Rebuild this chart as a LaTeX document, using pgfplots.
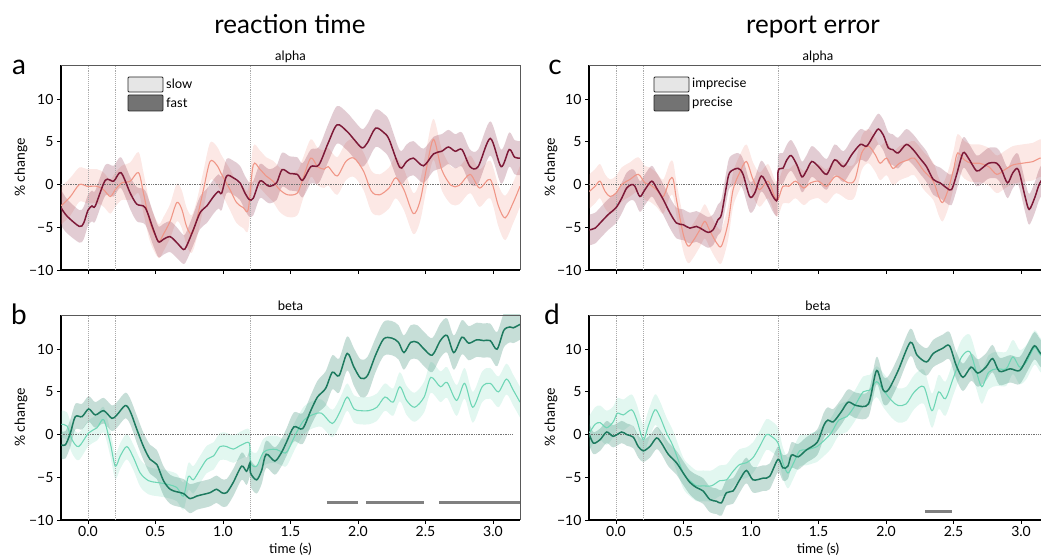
\documentclass[border=0pt]{standalone}
\usepackage{fontspec}
\setmainfont{Lato}
\usepackage{pgfplots}
\pgfplotsset{compat=1.18}
\usepackage{pgfplotstable}
\usepgfplotslibrary{fillbetween}

\definecolor{aD}{RGB}{125,25,55}
\definecolor{aL}{RGB}{240,150,135}
\definecolor{bD}{RGB}{29,122,95}
\definecolor{bL}{RGB}{111,214,181}
\definecolor{sig}{RGB}{128,128,128}
\definecolor{guide}{RGB}{170,170,170}
\definecolor{legL}{RGB}{230,230,230}
\definecolor{legD}{RGB}{115,115,115}

\pgfplotstableread{
t m w
-0.20 -2.7 2.1
-0.155 -3.7 2.0
-0.064 -4.9 1.9
-0.032 -4.5 1.9
0.00 -3.0 1.8
0.03 -2.5 1.8
0.054 -2.5 1.8
0.128 0.5 1.8
0.19 0.4 1.8
0.244 1.4 1.8
0.313 -1.0 1.9
0.362 -2.3 2.0
0.424 -2.7 2.0
0.485 -5.3 1.9
0.522 -6.7 1.8
0.559 -6.4 1.8
0.608 -6.1 1.8
0.658 -6.8 1.8
0.707 -7.6 1.7
0.73 -7.2 1.7
0.78 -5.3 1.8
0.83 -3.3 1.9
0.88 -2.5 2.0
0.93 -1.4 2.0
0.966 -0.8 2.0
0.99 -1.0 2.0
1.027 1.0 2.0
1.076 0.8 2.0
1.126 0.2 2.0
1.163 -1.0 2.0
1.195 -1.75 2.0
1.224 -1.6 2.0
1.273 0.4 2.0
1.32 0.0 2.0
1.347 -0.2 2.0
1.397 0.2 2.0
1.438 1.75 2.0
1.495 1.3 2.0
1.55 1.2 2.0
1.59 0.5 2.0
1.65 2.1 2.0
1.71 2.3 2.1
1.78 4.9 2.2
1.845 7.0 2.2
1.92 6.2 2.2
1.97 5.3 2.2
2.03 4.3 2.2
2.07 4.9 2.2
2.13 6.6 2.2
2.19 6.1 2.2
2.23 5.3 2.2
2.31 2.0 2.0
2.36 2.7 2.0
2.41 3.1 2.0
2.485 2.2 2.0
2.56 3.6 2.0
2.62 3.9 2.0
2.67 4.4 2.0
2.72 3.9 2.0
2.77 4.1 2.0
2.83 2.1 2.0
2.89 2.1 2.0
2.98 5.4 2.0
3.06 2.1 2.0
3.12 4.1 2.0
3.16 3.2 2.0
3.2 3.1 2.0
}\tabAD

\pgfplotstableread{
t m w
-0.2 -2.5 2.2
-0.13 -1.4 2.2
-0.064 0.0 2.0
-0.007 -0.2 2.0
0.067 -0.2 2.0
0.116 -0.6 2.0
0.165 -1.4 2.0
0.202 -0.6 2.0
0.25 0.2 2.0
0.313 0.4 2.2
0.374 1.4 2.4
0.411 -1.0 2.4
0.46 -4.5 2.2
0.522 -6.6 2.0
0.559 -5.8 2.0
0.608 -4.3 2.0
0.658 -2.1 2.2
0.695 -2.9 2.2
0.73 -4.9 2.2
0.768 -5.8 2.2
0.805 -4.1 2.2
0.855 -0.6 2.2
0.904 2.7 2.2
0.953 2.3 2.2
0.99 1.2 2.2
1.052 -0.6 2.4
1.10 -2.1 2.4
1.15 -2.7 2.4
1.187 -2.9 2.4
1.224 2.3 2.2
1.273 1.8 2.2
1.32 1.0 2.2
1.37 0.4 2.4
1.42 -0.6 2.6
1.48 -1.2 2.6
1.55 -1.0 2.6
1.59 0.6 2.4
1.65 3.1 2.2
1.70 2.1 2.2
1.75 1.8 2.2
1.78 2.1 2.2
1.845 1.0 2.2
1.91 2.7 2.2
1.97 3.1 2.2
2.04 1.6 2.2
2.10 -0.8 2.4
2.16 -1.2 2.4
2.23 -0.4 2.4
2.28 0.8 2.4
2.34 -0.6 2.4
2.41 -3.4 2.4
2.46 -1.9 2.4
2.51 2.1 2.4
2.56 5.3 2.4
2.62 1.75 2.4
2.69 -0.1 2.2
2.75 -0.1 2.2
2.83 1.2 2.2
2.90 -0.4 2.2
2.98 0.6 2.2
3.04 -2.5 2.4
3.09 -3.9 2.6
3.15 -2.1 2.4
3.2 -0.2 2.4
}\tabAL

\pgfplotstableread{
t m w
-0.197 -1.2 1.6
-0.167 -1.2 1.6
-0.13 0.2 1.6
-0.094 2.1 1.5
-0.044 2.1 1.5
0.005 3.0 1.5
0.054 2.3 1.5
0.116 2.8 1.5
0.177 1.9 1.5
0.214 2.3 1.5
0.276 3.4 1.5
0.313 2.7 1.5
0.362 0.6 1.6
0.411 -1.4 1.6
0.46 -2.9 1.7
0.51 -3.5 1.7
0.559 -5.4 1.7
0.608 -6.4 1.7
0.658 -6.7 1.7
0.707 -6.9 1.7
0.756 -7.5 1.7
0.805 -7.2 1.6
0.855 -7.0 1.6
0.904 -6.8 1.6
0.953 -6.4 1.6
0.99 -6.8 1.6
1.027 -6.8 1.6
1.076 -5.6 1.6
1.138 -3.7 1.6
1.175 -4.3 1.6
1.2 -3.3 1.6
1.204 -4.5 1.6
1.249 -5.3 1.6
1.286 -4.2 1.6
1.32 -2.3 1.6
1.384 -3.1 1.6
1.433 -2.1 1.6
1.47 -0.9 1.6
1.525 0.9 1.7
1.59 0.7 1.8
1.65 2.8 1.8
1.70 4.4 1.9
1.76 5.4 2.0
1.81 7.3 2.0
1.86 6.9 2.0
1.92 9.5 2.0
1.97 7.9 2.2
2.02 6.6 2.2
2.07 6.9 2.2
2.13 9.3 2.0
2.19 11.2 2.0
2.25 11.3 2.0
2.30 10.8 2.0
2.34 9.6 2.0
2.39 10.8 2.0
2.44 10.8 2.0
2.49 10.0 2.0
2.55 9.3 2.0
2.61 11.0 2.0
2.66 11.6 2.0
2.71 9.6 2.0
2.77 11.4 2.0
2.82 10.7 2.0
2.88 11.1 2.0
2.93 11.0 2.0
2.98 11.0 2.0
3.03 10.0 2.0
3.08 12.2 2.0
3.125 12.6 1.8
3.15 12.5 1.8
3.2 12.9 1.8
}\tabBD

\pgfplotstableread{
t m w
-0.197 1.2 1.6
-0.155 1.0 1.6
-0.118 -0.6 1.6
-0.069 -1.4 1.6
0.005 0.2 1.5
0.067 0.8 1.5
0.116 1.75 1.5
0.165 -1.0 1.5
0.202 -3.7 1.5
0.239 -2.5 1.5
0.288 -1.4 1.5
0.337 -2.7 1.5
0.387 -4.5 1.6
0.448 -5.4 1.6
0.51 -5.6 1.6
0.584 -5.8 1.6
0.658 -6.2 1.6
0.707 -7.2 1.6
0.744 -4.9 1.6
0.78 -5.3 1.6
0.83 -4.1 1.6
0.88 -2.9 1.6
0.93 -2.5 1.6
0.978 -1.4 1.6
1.027 -1.4 1.6
1.076 -1.7 1.6
1.138 -1.2 1.6
1.195 -1.0 1.6
1.204 -3.3 1.6
1.249 -3.7 1.6
1.298 -2.1 1.6
1.347 -1.75 1.6
1.397 -1.75 1.6
1.446 -2.1 1.6
1.475 -2.0 1.6
1.54 0.1 1.6
1.6 1.7 1.6
1.66 2.3 1.6
1.73 2.5 1.6
1.81 1.3 1.6
1.87 2.8 1.6
1.92 4.4 1.6
1.97 3.0 1.6
2.02 2.8 1.6
2.08 2.8 1.6
2.14 3.2 1.6
2.2 4.4 1.6
2.26 3.8 1.6
2.31 5.6 1.7
2.36 4.0 1.7
2.42 3.2 1.7
2.49 4.4 1.8
2.54 6.7 1.8
2.61 5.6 1.8
2.66 6.1 1.8
2.73 4.0 1.8
2.79 6.0 1.8
2.85 3.2 1.8
2.92 5.6 1.8
2.98 6.0 1.8
3.04 5.0 1.8
3.1 6.5 1.8
3.15 5.2 1.8
3.2 3.8 1.8
}\tabBL

\pgfplotstableread{
t m w
-0.197 -5.3 1.8
-0.155 -5.1 1.8
-0.106 -4.3 1.8
-0.057 -3.5 1.8
0.0 -2.7 1.8
0.042 -1.6 1.8
0.079 -0.4 1.8
0.116 0.0 1.8
0.14 -0.2 1.8
0.177 -1.4 1.8
0.214 -0.6 1.8
0.264 0.4 1.8
0.30 -0.4 1.8
0.35 -1.75 1.8
0.399 -3.3 1.8
0.448 -4.5 1.8
0.498 -4.7 1.8
0.547 -5.1 1.8
0.596 -4.9 1.8
0.645 -5.3 1.8
0.682 -5.6 1.8
0.719 -5.3 1.8
0.756 -4.1 1.8
0.781 -3.5 1.8
0.818 -0.2 1.8
0.842 1.4 1.8
0.904 1.9 1.8
0.941 1.2 1.8
0.99 -1.4 1.8
1.027 -1.0 1.8
1.076 1.0 1.8
1.126 -0.2 1.8
1.163 -1.4 1.8
1.195 -1.75 1.8
1.201 1.6 1.8
1.236 1.9 1.8
1.266 2.9 1.8
1.298 3.4 1.8
1.34 2.3 1.8
1.377 0.9 1.8
1.41 1.6 1.8
1.45 2.7 1.8
1.5 2.1 1.8
1.56 1.2 1.8
1.62 2.9 1.8
1.685 2.1 1.8
1.746 3.5 1.8
1.81 4.7 1.8
1.857 4.5 1.8
1.906 5.7 1.8
1.943 6.5 1.8
1.98 5.8 1.8
2.017 4.3 1.8
2.05 4.1 1.8
2.09 3.7 1.8
2.15 4.7 1.8
2.2 4.1 1.8
2.25 3.1 1.8
2.3 2.1 1.8
2.35 0.6 1.8
2.4 0.2 1.8
2.45 -0.4 1.8
2.485 -0.6 1.8
2.52 1.0 1.8
2.57 3.7 1.8
2.61 3.1 1.8
2.67 1.6 1.8
2.71 1.9 1.8
2.76 2.5 1.8
2.82 2.5 1.8
2.855 1.75 1.8
2.9 0.2 1.8
2.94 1.4 1.8
2.98 1.75 1.8
3.03 -1.4 1.8
3.06 -2.9 1.8
3.1 -1.6 1.8
3.14 0.2 1.8
3.2 1.5 1.8
}\tabCD

\pgfplotstableread{
t m w
-0.197 -0.8 2.0
-0.155 -0.2 2.0
-0.118 0.4 2.0
-0.081 -0.8 2.0
-0.044 -1.4 2.0
0.0 -1.0 2.0
0.042 0.0 2.0
0.103 0.6 2.0
0.165 1.2 2.0
0.214 0.2 2.0
0.251 0.0 2.0
0.30 -0.6 2.0
0.35 -1.4 2.0
0.399 0.6 2.0
0.424 0.6 2.0
0.448 -1.75 2.0
0.498 -5.8 2.0
0.534 -7.2 2.0
0.571 -6.6 2.0
0.621 -5.3 2.0
0.658 -4.3 2.0
0.695 -5.4 2.0
0.744 -6.8 2.0
0.781 -7.2 2.0
0.83 -4.5 2.0
0.867 -0.6 2.0
0.916 1.4 2.0
0.966 2.7 2.0
1.015 0.6 2.0
1.064 -0.6 2.0
1.126 0.4 2.0
1.175 -1.4 2.0
1.2 -1.75 2.0
1.236 -0.2 2.0
1.28 -0.2 2.0
1.33 0.4 2.0
1.39 -0.4 2.0
1.44 0.2 2.0
1.5 0.4 2.0
1.56 -0.2 2.0
1.63 1.0 2.0
1.72 0.2 2.0
1.77 0.6 2.0
1.82 3.7 2.0
1.87 4.5 2.0
1.92 3.5 2.0
1.956 2.5 2.0
2.005 3.1 2.0
2.05 1.9 2.0
2.1 2.5 2.0
2.165 2.9 2.0
2.21 3.1 2.0
2.28 1.6 2.2
2.35 0.4 2.2
2.39 -1.4 2.2
2.42 -2.1 2.2
2.46 -0.6 2.2
2.5 1.75 2.2
2.53 3.7 2.2
2.58 2.9 2.2
2.63 2.5 2.2
2.69 2.5 2.2
2.76 2.1 2.2
2.82 1.2 2.2
2.88 1.75 2.2
2.94 2.3 2.2
3.01 2.5 2.2
3.09 2.7 2.2
3.14 3.1 2.2
3.2 3.0 2.2
}\tabCL

\pgfplotstableread{
t m w
-0.197 0.0 1.3
-0.167 -1.0 1.3
-0.118 -0.6 1.3
-0.069 0.3 1.3
-0.02 -0.2 1.3
0.042 0.3 1.3
0.079 0.0 1.3
0.128 -0.3 1.3
0.165 -1.4 1.3
0.202 -1.9 1.3
0.251 -1.4 1.3
0.30 -0.4 1.3
0.337 -1.0 1.3
0.387 -2.3 1.4
0.448 -3.3 1.4
0.498 -4.5 1.4
0.547 -5.6 1.4
0.596 -6.2 1.5
0.645 -6.6 1.5
0.695 -7.6 1.5
0.744 -7.8 1.5
0.781 -8.0 1.5
0.818 -6.8 1.5
0.867 -6.6 1.5
0.916 -5.3 1.5
0.966 -4.2 1.5
1.015 -5.3 1.5
1.089 -5.1 1.5
1.138 -4.9 1.5
1.2 -2.9 1.5
1.236 -3.9 1.5
1.273 -3.7 1.5
1.3 -2.4 1.5
1.35 -2.6 1.5
1.41 -1.8 1.5
1.49 -0.9 1.5
1.54 1.1 1.5
1.57 1.7 1.5
1.61 1.5 1.5
1.67 2.7 1.5
1.72 3.8 1.5
1.78 3.4 1.5
1.87 3.6 1.5
1.93 7.5 1.6
1.98 5.2 1.6
2.02 5.3 1.6
2.09 7.5 1.6
2.18 10.8 1.6
2.23 9.3 1.6
2.3 8.5 1.6
2.35 9.5 1.6
2.42 10.1 1.6
2.47 10.4 1.6
2.52 8.1 1.6
2.57 6.7 1.6
2.63 7.9 1.6
2.68 7.2 1.6
2.74 7.9 1.6
2.79 8.9 1.6
2.84 7.4 1.6
2.92 7.7 1.6
2.99 7.5 1.6
3.05 9.1 1.6
3.1 10.4 1.6
3.145 9.5 1.6
3.2 9.0 1.6
}\tabDD

\pgfplotstableread{
t m w
-0.197 0.2 2.0
-0.155 1.2 2.0
-0.118 1.4 2.0
-0.069 0.8 2.0
-0.02 1.5 1.8
0.01 2.5 1.8
0.054 2.3 1.8
0.116 2.9 1.8
0.153 1.75 1.8
0.202 -0.6 1.8
0.239 1.0 1.8
0.288 2.9 1.8
0.325 2.1 1.8
0.374 0.2 1.8
0.424 -1.4 1.8
0.498 -4.5 1.8
0.547 -5.4 1.8
0.596 -6.0 1.8
0.645 -6.0 1.8
0.707 -6.0 1.8
0.768 -5.4 1.8
0.818 -5.3 1.8
0.867 -4.3 1.8
0.916 -3.5 1.8
0.966 -3.3 1.8
1.015 -2.7 1.8
1.064 -1.4 1.8
1.113 0.0 1.8
1.15 -0.2 1.8
1.2 -1.0 1.8
1.236 -3.3 1.8
1.273 -4.5 1.8
1.31 -3.5 1.8
1.36 -1.9 1.8
1.41 -1.8 1.8
1.49 -1.4 1.8
1.52 -1.0 1.8
1.59 0.1 1.8
1.65 1.7 1.8
1.71 2.1 1.8
1.77 3.4 1.8
1.83 5.0 1.8
1.88 5.2 1.8
1.93 6.2 1.8
1.98 5.2 2.0
2.04 4.0 2.0
2.09 3.4 2.0
2.15 3.6 2.0
2.21 5.0 2.0
2.28 5.6 2.0
2.34 2.8 2.0
2.39 5.0 2.0
2.44 4.2 2.0
2.5 6.7 2.0
2.56 9.1 2.0
2.62 9.7 2.0
2.67 7.3 2.0
2.71 5.6 2.0
2.76 7.3 2.0
2.82 7.7 2.0
2.89 7.7 2.0
2.94 9.1 2.0
2.99 7.9 2.0
3.04 8.5 2.0
3.1 10.2 2.0
3.145 9.3 2.0
3.2 9.0 2.0
}\tabDL

\newcommand{\band}[4]{%
  \addplot[draw=none, name path=#4u, smooth, tension=0.5, forget plot] table[x=t, y expr=\thisrow{m}+\thisrow{w}] {#1};
  \addplot[draw=none, name path=#4l, smooth, tension=0.5, forget plot] table[x=t, y expr=\thisrow{m}-\thisrow{w}] {#1};
  \addplot[fill=#2, fill opacity=#3, draw=none, forget plot] fill between[of=#4u and #4l];
}
\newcommand{\mline}[3]{\addplot[color=#2, line width=#3, smooth, tension=0.5, forget plot] table[x=t, y=m] {#1};}
\newcommand{\guides}{%
  \draw[guide, densely dotted, line width=0.9pt] (axis cs:0,-10) -- (axis cs:0,14);
  \draw[guide, densely dotted, line width=0.9pt] (axis cs:0.2,-10) -- (axis cs:0.2,14);
  \draw[guide, densely dotted, line width=0.9pt] (axis cs:1.2,-10) -- (axis cs:1.2,14);
  \draw[black!55, densely dotted, line width=0.7pt] (axis cs:-0.2,0) -- (axis cs:3.148,0);
}

\pgfplotsset{
  panel/.style={
    scale only axis, height=205pt,
    xmin=-0.2, ymin=-10, ymax=14, enlargelimits=false,
    ytick={-10,-5,0,5,10}, yticklabels={−10,−5,0,5,10},
    xtick={0,0.5,1,1.5,2,2.5,3},
    axis lines*=left,
    axis line style={-, black, line width=1.1pt},
    tick align=outside, major tick length=4pt,
    tick style={black, line width=0.8pt},
    tick label style={font=\fontsize{14}{16}\selectfont},
    xticklabel style={inner sep=1pt},
    xticklabel shift=1pt,
    clip mode=individual,
  },
  leftp/.style={panel, width=459pt, xmax=3.2},
  rightp/.style={panel, width=452pt, xmax=3.148},
  toprow/.style={xticklabels={}},
  botrow/.style={xticklabels={0.0,0.5,1.0,1.5,2.0,2.5,3.0}},
}

\newcommand{\spinesLR}{\draw[black!65, line width=0.8pt] (rel axis cs:0,1) -- (rel axis cs:1,1) -- (rel axis cs:1,0);}
\newcommand{\spinesT}{\draw[black!65, line width=0.8pt] (rel axis cs:0,1) -- (rel axis cs:1,1);}

\begin{document}
\begin{tikzpicture}

% panel a
\begin{axis}[leftp, toprow, at={(61pt,284pt)}, anchor=south west]
\guides
\band{\tabAL}{aL}{0.22}{aLb}
\band{\tabAD}{aD}{0.22}{aDb}
\mline{\tabAL}{aL}{1.1pt}
\mline{\tabAD}{aD}{1.5pt}
\spinesLR
\end{axis}

% panel b
\begin{axis}[leftp, botrow, at={(61pt,34pt)}, anchor=south west]
\guides
\band{\tabBL}{bL}{0.2}{bLb}
\band{\tabBD}{bD}{0.25}{bDb}
\mline{\tabBL}{bL}{1.1pt}
\mline{\tabBD}{bD}{1.5pt}
\addplot[sig, line width=3pt, forget plot] coordinates {(1.77,-8) (2.0,-8)};
\addplot[sig, line width=3pt, forget plot] coordinates {(2.06,-8) (2.49,-8)};
\addplot[sig, line width=3pt, forget plot] coordinates {(2.6,-8) (3.2,-8)};
\spinesLR
\end{axis}

% panel c
\begin{axis}[rightp, toprow, at={(589pt,284pt)}, anchor=south west]
\guides
\band{\tabCL}{aL}{0.22}{cLb}
\band{\tabCD}{aD}{0.22}{cDb}
\mline{\tabCL}{aL}{1.1pt}
\mline{\tabCD}{aD}{1.5pt}
\spinesT
\end{axis}

% panel d
\begin{axis}[rightp, botrow, at={(589pt,34pt)}, anchor=south west]
\guides
\band{\tabDL}{bL}{0.2}{dLb}
\band{\tabDD}{bD}{0.25}{dDb}
\mline{\tabDL}{bL}{1.1pt}
\mline{\tabDD}{bD}{1.5pt}
\addplot[sig, line width=3pt, forget plot] coordinates {(2.29,-9) (2.49,-9)};
\spinesT
\end{axis}

% titles
\node[anchor=base, font=\fontsize{26}{30}\selectfont] at (290pt,520pt) {reaction time};
\node[anchor=base, font=\fontsize{26}{30}\selectfont] at (813pt,520pt) {report error};
\node[anchor=base, font=\fontsize{13}{15}\selectfont] at (290.5pt,493pt) {alpha};
\node[anchor=base, font=\fontsize{13}{15}\selectfont] at (290.5pt,243pt) {beta};
\node[anchor=base, font=\fontsize{13}{15}\selectfont] at (818pt,493pt) {alpha};
\node[anchor=base, font=\fontsize{13}{15}\selectfont] at (818pt,243pt) {beta};
% panel letters
\node[anchor=base, font=\fontsize{28}{30}\selectfont] at (19pt,479pt) {a};
\node[anchor=base, font=\fontsize{28}{30}\selectfont] at (19pt,229pt) {b};
\node[anchor=base, font=\fontsize{28}{30}\selectfont] at (555pt,479pt) {c};
\node[anchor=base, font=\fontsize{28}{30}\selectfont] at (552pt,229pt) {d};
% y labels
\node[rotate=90, font=\fontsize{14}{16}\selectfont] at (21pt,386.5pt) {\% change};
\node[rotate=90, font=\fontsize{14}{16}\selectfont] at (21pt,136.5pt) {\% change};
\node[rotate=90, font=\fontsize{14}{16}\selectfont] at (551pt,386.5pt) {\% change};
\node[rotate=90, font=\fontsize{14}{16}\selectfont] at (551pt,136.5pt) {\% change};
% x labels
\node[anchor=base, inner sep=0pt, font=\fontsize{13.5}{15}\selectfont] at (290.5pt,1pt) {time (s)};
\node[anchor=base, inner sep=0pt, font=\fontsize{13.5}{15}\selectfont] at (818pt,1pt) {time (s)};
% legends
\draw[fill=legL, draw=black!85, line width=0.9pt, rounded corners=1pt] (128pt,462pt) rectangle (163pt,477pt);
\draw[fill=legD, draw=black!85, line width=0.9pt, rounded corners=1pt] (128pt,443pt) rectangle (163pt,459pt);
\node[anchor=west, inner sep=0pt, font=\fontsize{13}{15}\selectfont] at (166pt,470pt) {slow};
\node[anchor=west, inner sep=0pt, font=\fontsize{13}{15}\selectfont] at (166pt,451pt) {fast};
\draw[fill=legL, draw=black!85, line width=0.9pt, rounded corners=1pt] (654pt,462pt) rectangle (689pt,477pt);
\draw[fill=legD, draw=black!85, line width=0.9pt, rounded corners=1pt] (654pt,443pt) rectangle (689pt,459pt);
\node[anchor=west, inner sep=0pt, font=\fontsize{13}{15}\selectfont] at (692pt,470pt) {imprecise};
\node[anchor=west, inner sep=0pt, font=\fontsize{13}{15}\selectfont] at (692pt,451pt) {precise};

\pgfresetboundingbox
\path (0,0) rectangle (1041pt,554pt);
\end{tikzpicture}
\end{document}
